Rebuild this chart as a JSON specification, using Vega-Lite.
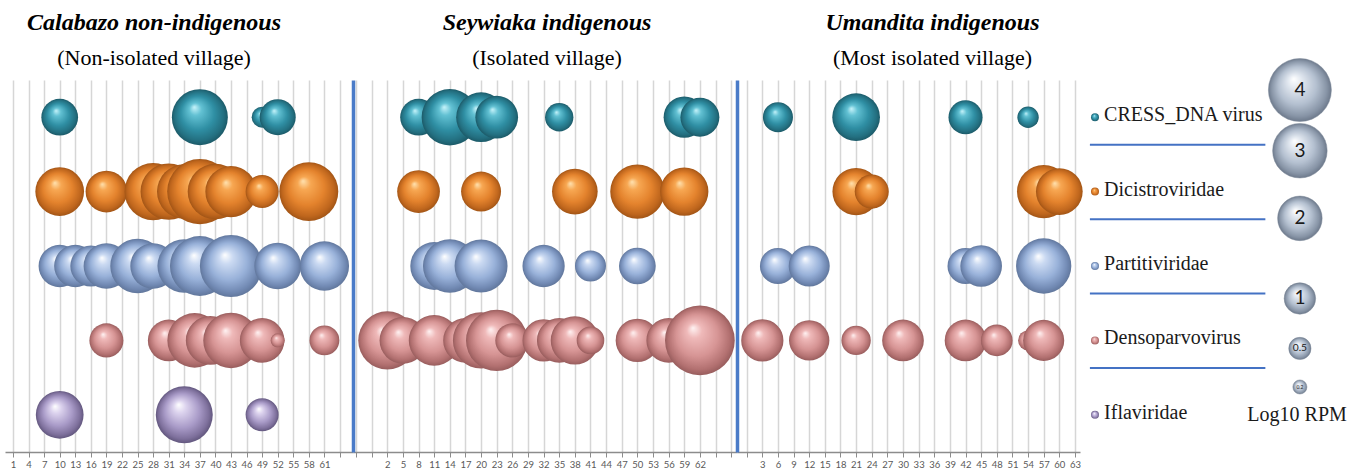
{
  "$schema": "https://vega.github.io/schema/vega-lite/v6.json",
  "autosize": {"type": "pad"},
  "padding": {"left": 5, "right": 0, "top": 11, "bottom": 0},
  "background": "white",
  "spacing": 0,
  "bounds": "flush",
  "datasets": {
    "bubbles": [
      {"village": "Calabazo", "family": "CRESS_DNA virus", "sample": 10, "rpm": 1.36},
      {"village": "Calabazo", "family": "CRESS_DNA virus", "sample": 37, "rpm": 3.16},
      {"village": "Calabazo", "family": "CRESS_DNA virus", "sample": 49, "rpm": 0.44},
      {"village": "Calabazo", "family": "CRESS_DNA virus", "sample": 52, "rpm": 1.31},
      {"village": "Calabazo", "family": "Dicistroviridae", "sample": 10, "rpm": 2.39},
      {"village": "Calabazo", "family": "Dicistroviridae", "sample": 19, "rpm": 1.75},
      {"village": "Calabazo", "family": "Dicistroviridae", "sample": 28, "rpm": 3.3},
      {"village": "Calabazo", "family": "Dicistroviridae", "sample": 31, "rpm": 3.2},
      {"village": "Calabazo", "family": "Dicistroviridae", "sample": 34, "rpm": 3.0},
      {"village": "Calabazo", "family": "Dicistroviridae", "sample": 37, "rpm": 4.3},
      {"village": "Calabazo", "family": "Dicistroviridae", "sample": 40, "rpm": 3.1},
      {"village": "Calabazo", "family": "Dicistroviridae", "sample": 43, "rpm": 2.65},
      {"village": "Calabazo", "family": "Dicistroviridae", "sample": 49, "rpm": 1.1},
      {"village": "Calabazo", "family": "Dicistroviridae", "sample": 58, "rpm": 3.5},
      {"village": "Calabazo", "family": "Partitiviridae", "sample": 10, "rpm": 1.8},
      {"village": "Calabazo", "family": "Partitiviridae", "sample": 13, "rpm": 1.8},
      {"village": "Calabazo", "family": "Partitiviridae", "sample": 16, "rpm": 1.7},
      {"village": "Calabazo", "family": "Partitiviridae", "sample": 19, "rpm": 2.1},
      {"village": "Calabazo", "family": "Partitiviridae", "sample": 25, "rpm": 3.0},
      {"village": "Calabazo", "family": "Partitiviridae", "sample": 28, "rpm": 2.1},
      {"village": "Calabazo", "family": "Partitiviridae", "sample": 34, "rpm": 2.9},
      {"village": "Calabazo", "family": "Partitiviridae", "sample": 37, "rpm": 3.6},
      {"village": "Calabazo", "family": "Partitiviridae", "sample": 43, "rpm": 3.9},
      {"village": "Calabazo", "family": "Partitiviridae", "sample": 52, "rpm": 2.2},
      {"village": "Calabazo", "family": "Partitiviridae", "sample": 61, "rpm": 2.45},
      {"village": "Calabazo", "family": "Densoparvovirus", "sample": 19, "rpm": 1.17},
      {"village": "Calabazo", "family": "Densoparvovirus", "sample": 31, "rpm": 1.75},
      {"village": "Calabazo", "family": "Densoparvovirus", "sample": 36, "rpm": 3.0},
      {"village": "Calabazo", "family": "Densoparvovirus", "sample": 39, "rpm": 2.4},
      {"village": "Calabazo", "family": "Densoparvovirus", "sample": 43, "rpm": 3.1},
      {"village": "Calabazo", "family": "Densoparvovirus", "sample": 49, "rpm": 2.0},
      {"village": "Calabazo", "family": "Densoparvovirus", "sample": 52, "rpm": 0.2},
      {"village": "Calabazo", "family": "Densoparvovirus", "sample": 61, "rpm": 0.9},
      {"village": "Calabazo", "family": "Iflaviridae", "sample": 10, "rpm": 2.3},
      {"village": "Calabazo", "family": "Iflaviridae", "sample": 34, "rpm": 3.27},
      {"village": "Calabazo", "family": "Iflaviridae", "sample": 49, "rpm": 1.1},
      {"village": "Seywiaka", "family": "CRESS_DNA virus", "sample": 8, "rpm": 1.36},
      {"village": "Seywiaka", "family": "CRESS_DNA virus", "sample": 14, "rpm": 3.2},
      {"village": "Seywiaka", "family": "CRESS_DNA virus", "sample": 20, "rpm": 2.5},
      {"village": "Seywiaka", "family": "CRESS_DNA virus", "sample": 23, "rpm": 1.84},
      {"village": "Seywiaka", "family": "CRESS_DNA virus", "sample": 35, "rpm": 0.81},
      {"village": "Seywiaka", "family": "CRESS_DNA virus", "sample": 59, "rpm": 1.72},
      {"village": "Seywiaka", "family": "CRESS_DNA virus", "sample": 62, "rpm": 1.53},
      {"village": "Seywiaka", "family": "Dicistroviridae", "sample": 8, "rpm": 1.84},
      {"village": "Seywiaka", "family": "Dicistroviridae", "sample": 20, "rpm": 1.61},
      {"village": "Seywiaka", "family": "Dicistroviridae", "sample": 38, "rpm": 2.1},
      {"village": "Seywiaka", "family": "Dicistroviridae", "sample": 50, "rpm": 2.97},
      {"village": "Seywiaka", "family": "Dicistroviridae", "sample": 59, "rpm": 2.35},
      {"village": "Seywiaka", "family": "Partitiviridae", "sample": 11, "rpm": 2.3},
      {"village": "Seywiaka", "family": "Partitiviridae", "sample": 14, "rpm": 2.9},
      {"village": "Seywiaka", "family": "Partitiviridae", "sample": 20, "rpm": 2.83},
      {"village": "Seywiaka", "family": "Partitiviridae", "sample": 32, "rpm": 1.8},
      {"village": "Seywiaka", "family": "Partitiviridae", "sample": 41, "rpm": 0.97},
      {"village": "Seywiaka", "family": "Partitiviridae", "sample": 50, "rpm": 1.36},
      {"village": "Seywiaka", "family": "Densoparvovirus", "sample": 2, "rpm": 3.4},
      {"village": "Seywiaka", "family": "Densoparvovirus", "sample": 5, "rpm": 2.2},
      {"village": "Seywiaka", "family": "Densoparvovirus", "sample": 11, "rpm": 2.6},
      {"village": "Seywiaka", "family": "Densoparvovirus", "sample": 17, "rpm": 2.0},
      {"village": "Seywiaka", "family": "Densoparvovirus", "sample": 20, "rpm": 3.2},
      {"village": "Seywiaka", "family": "Densoparvovirus", "sample": 23, "rpm": 3.8},
      {"village": "Seywiaka", "family": "Densoparvovirus", "sample": 26, "rpm": 1.17},
      {"village": "Seywiaka", "family": "Densoparvovirus", "sample": 32, "rpm": 1.8},
      {"village": "Seywiaka", "family": "Densoparvovirus", "sample": 35, "rpm": 2.0},
      {"village": "Seywiaka", "family": "Densoparvovirus", "sample": 38, "rpm": 2.35},
      {"village": "Seywiaka", "family": "Densoparvovirus", "sample": 41, "rpm": 0.77},
      {"village": "Seywiaka", "family": "Densoparvovirus", "sample": 50, "rpm": 1.9},
      {"village": "Seywiaka", "family": "Densoparvovirus", "sample": 56, "rpm": 2.0},
      {"village": "Seywiaka", "family": "Densoparvovirus", "sample": 62, "rpm": 4.9},
      {"village": "Umandita", "family": "CRESS_DNA virus", "sample": 6, "rpm": 0.91},
      {"village": "Umandita", "family": "CRESS_DNA virus", "sample": 21, "rpm": 2.29},
      {"village": "Umandita", "family": "CRESS_DNA virus", "sample": 42, "rpm": 1.17},
      {"village": "Umandita", "family": "CRESS_DNA virus", "sample": 54, "rpm": 0.46},
      {"village": "Umandita", "family": "Dicistroviridae", "sample": 21, "rpm": 2.26},
      {"village": "Umandita", "family": "Dicistroviridae", "sample": 24, "rpm": 1.17},
      {"village": "Umandita", "family": "Dicistroviridae", "sample": 57, "rpm": 2.87},
      {"village": "Umandita", "family": "Dicistroviridae", "sample": 60, "rpm": 2.2},
      {"village": "Umandita", "family": "Partitiviridae", "sample": 6, "rpm": 1.31},
      {"village": "Umandita", "family": "Partitiviridae", "sample": 12, "rpm": 1.7},
      {"village": "Umandita", "family": "Partitiviridae", "sample": 42, "rpm": 1.31},
      {"village": "Umandita", "family": "Partitiviridae", "sample": 45, "rpm": 1.75},
      {"village": "Umandita", "family": "Partitiviridae", "sample": 57, "rpm": 3.08},
      {"village": "Umandita", "family": "Densoparvovirus", "sample": 3, "rpm": 1.8},
      {"village": "Umandita", "family": "Densoparvovirus", "sample": 12, "rpm": 1.64},
      {"village": "Umandita", "family": "Densoparvovirus", "sample": 21, "rpm": 0.87},
      {"village": "Umandita", "family": "Densoparvovirus", "sample": 30, "rpm": 1.75},
      {"village": "Umandita", "family": "Densoparvovirus", "sample": 42, "rpm": 1.75},
      {"village": "Umandita", "family": "Densoparvovirus", "sample": 48, "rpm": 1.01},
      {"village": "Umandita", "family": "Densoparvovirus", "sample": 54, "rpm": 0.4},
      {"village": "Umandita", "family": "Densoparvovirus", "sample": 57, "rpm": 1.7}
    ],
    "families": [
      {"family": "CRESS_DNA virus"},
      {"family": "Dicistroviridae"},
      {"family": "Partitiviridae"},
      {"family": "Densoparvovirus"},
      {"family": "Iflaviridae"}
    ],
    "sizes": [
      {"rpm": 4}, {"rpm": 3}, {"rpm": 2}, {"rpm": 1}, {"rpm": 0.5}, {"rpm": 0.2}
    ],
    "legendTitle": [{"label": "Log10 RPM"}]
  },
  "hconcat": [
    {
      "width": 348, "height": 372,
      "data": {"name": "bubbles"},
      "transform": [{"filter": "datum.village === 'Calabazo'"}],
      "title": {"text": "Calabazo non-indigenous", "subtitle": "(Non-isolated village)", "dx": -25},
      "mark": {"type": "circle", "opacity": 1},
      "encoding": {
        "x": {"field": "sample", "type": "quantitative",
              "scale": {"domain": [-0.54, 66.51], "nice": false, "zero": false},
              "axis": {"values": [1,4,7,10,13,16,19,22,25,28,31,34,37,40,43,46,49,52,55,58,61,64],
                       "labelExpr": "datum.value <= 61 ? datum.label : ''", "format": "d"}},
        "y": {"field": "family", "type": "nominal",
              "scale": {"type": "band", "domain": ["CRESS_DNA virus","Dicistroviridae","Partitiviridae","Densoparvovirus","Iflaviridae"], "paddingInner": 0, "paddingOuter": 0},
              "axis": null},
        "size": {"field": "rpm", "type": "quantitative", "scale": {"domain": [0, 4], "range": [0, 3969], "zero": true}, "legend": null},
        "fill": {"condition": [
          {"test": "datum.family === 'CRESS_DNA virus'", "value": {"gradient": "radial", "x1": 0.4, "y1": 0.32, "r1": 0, "x2": 0.5, "y2": 0.5, "r2": 0.5, "stops": [{"offset": 0, "color": "#c8f4fb"}, {"offset": 0.22, "color": "#62c1d3"}, {"offset": 0.6, "color": "#2f8fa4"}, {"offset": 0.88, "color": "#236f80"}, {"offset": 1, "color": "#1c5a68"}]}},
          {"test": "datum.family === 'Dicistroviridae'", "value": {"gradient": "radial", "x1": 0.4, "y1": 0.32, "r1": 0, "x2": 0.5, "y2": 0.5, "r2": 0.5, "stops": [{"offset": 0, "color": "#ffe2b0"}, {"offset": 0.22, "color": "#f7a752"}, {"offset": 0.6, "color": "#e4832d"}, {"offset": 0.88, "color": "#bf661d"}, {"offset": 1, "color": "#a25516"}]}},
          {"test": "datum.family === 'Partitiviridae'", "value": {"gradient": "radial", "x1": 0.4, "y1": 0.32, "r1": 0, "x2": 0.5, "y2": 0.5, "r2": 0.5, "stops": [{"offset": 0, "color": "#ffffff"}, {"offset": 0.22, "color": "#cbdaf2"}, {"offset": 0.6, "color": "#98b1d9"}, {"offset": 0.88, "color": "#7189b3"}, {"offset": 1, "color": "#61779c"}]}},
          {"test": "datum.family === 'Densoparvovirus'", "value": {"gradient": "radial", "x1": 0.4, "y1": 0.32, "r1": 0, "x2": 0.5, "y2": 0.5, "r2": 0.5, "stops": [{"offset": 0, "color": "#fff3f3"}, {"offset": 0.22, "color": "#efb9b9"}, {"offset": 0.6, "color": "#d69494"}, {"offset": 0.88, "color": "#b27070"}, {"offset": 1, "color": "#985d5d"}]}}
        ], "value": {"gradient": "radial", "x1": 0.4, "y1": 0.32, "r1": 0, "x2": 0.5, "y2": 0.5, "r2": 0.5, "stops": [{"offset": 0, "color": "#ffffff"}, {"offset": 0.22, "color": "#dcd3ee"}, {"offset": 0.6, "color": "#a99bc8"}, {"offset": 0.88, "color": "#7e709c"}, {"offset": 1, "color": "#62577e"}]}}
      }
    },
    {
      "width": 384, "height": 372,
      "data": {"name": "bubbles"},
      "transform": [{"filter": "datum.village === 'Seywiaka'"}],
      "title": {"text": "Seywiaka indigenous", "subtitle": "(Isolated village)", "dx": 2},
      "mark": {"type": "circle", "opacity": 1},
      "encoding": {
        "x": {"field": "sample", "type": "quantitative",
              "scale": {"domain": [-4.58, 69.12], "nice": false, "zero": false},
              "axis": {"values": [-4,-1,2,5,8,11,14,17,20,23,26,29,32,35,38,41,44,47,50,53,56,59,62,65,68],
                       "labelExpr": "datum.value >= 2 && datum.value <= 62 ? datum.label : ''", "format": "d"}},
        "y": {"field": "family", "type": "nominal",
              "scale": {"type": "band", "domain": ["CRESS_DNA virus","Dicistroviridae","Partitiviridae","Densoparvovirus","Iflaviridae"], "paddingInner": 0, "paddingOuter": 0},
              "axis": {"labels": false, "ticks": false, "grid": false, "title": null, "domainColor": "#4a7bc8", "domainWidth": 3.5}},
        "size": {"field": "rpm", "type": "quantitative", "scale": {"domain": [0, 4], "range": [0, 3969], "zero": true}, "legend": null},
        "fill": {"condition": [
          {"test": "datum.family === 'CRESS_DNA virus'", "value": {"gradient": "radial", "x1": 0.4, "y1": 0.32, "r1": 0, "x2": 0.5, "y2": 0.5, "r2": 0.5, "stops": [{"offset": 0, "color": "#c8f4fb"}, {"offset": 0.22, "color": "#62c1d3"}, {"offset": 0.6, "color": "#2f8fa4"}, {"offset": 0.88, "color": "#236f80"}, {"offset": 1, "color": "#1c5a68"}]}},
          {"test": "datum.family === 'Dicistroviridae'", "value": {"gradient": "radial", "x1": 0.4, "y1": 0.32, "r1": 0, "x2": 0.5, "y2": 0.5, "r2": 0.5, "stops": [{"offset": 0, "color": "#ffe2b0"}, {"offset": 0.22, "color": "#f7a752"}, {"offset": 0.6, "color": "#e4832d"}, {"offset": 0.88, "color": "#bf661d"}, {"offset": 1, "color": "#a25516"}]}},
          {"test": "datum.family === 'Partitiviridae'", "value": {"gradient": "radial", "x1": 0.4, "y1": 0.32, "r1": 0, "x2": 0.5, "y2": 0.5, "r2": 0.5, "stops": [{"offset": 0, "color": "#ffffff"}, {"offset": 0.22, "color": "#cbdaf2"}, {"offset": 0.6, "color": "#98b1d9"}, {"offset": 0.88, "color": "#7189b3"}, {"offset": 1, "color": "#61779c"}]}},
          {"test": "datum.family === 'Densoparvovirus'", "value": {"gradient": "radial", "x1": 0.4, "y1": 0.32, "r1": 0, "x2": 0.5, "y2": 0.5, "r2": 0.5, "stops": [{"offset": 0, "color": "#fff3f3"}, {"offset": 0.22, "color": "#efb9b9"}, {"offset": 0.6, "color": "#d69494"}, {"offset": 0.88, "color": "#b27070"}, {"offset": 1, "color": "#985d5d"}]}}
        ], "value": {"gradient": "radial", "x1": 0.4, "y1": 0.32, "r1": 0, "x2": 0.5, "y2": 0.5, "r2": 0.5, "stops": [{"offset": 0, "color": "#ffffff"}, {"offset": 0.22, "color": "#dcd3ee"}, {"offset": 0.6, "color": "#a99bc8"}, {"offset": 0.88, "color": "#7e709c"}, {"offset": 1, "color": "#62577e"}]}}
      }
    },
    {
      "width": 343, "height": 372,
      "data": {"name": "bubbles"},
      "transform": [{"filter": "datum.village === 'Umandita'"}],
      "title": {"text": "Umandita indigenous", "subtitle": "(Most isolated village)", "dx": 24},
      "mark": {"type": "circle", "opacity": 1},
      "encoding": {
        "x": {"field": "sample", "type": "quantitative",
              "scale": {"domain": [-1.86, 63.97], "nice": false, "zero": false},
              "axis": {"values": [0,3,6,9,12,15,18,21,24,27,30,33,36,39,42,45,48,51,54,57,60,63],
                       "labelExpr": "datum.value >= 3 ? datum.label : ''", "format": "d"}},
        "y": {"field": "family", "type": "nominal",
              "scale": {"type": "band", "domain": ["CRESS_DNA virus","Dicistroviridae","Partitiviridae","Densoparvovirus","Iflaviridae"], "paddingInner": 0, "paddingOuter": 0},
              "axis": {"labels": false, "ticks": false, "grid": false, "title": null, "domainColor": "#4a7bc8", "domainWidth": 3.5}},
        "size": {"field": "rpm", "type": "quantitative", "scale": {"domain": [0, 4], "range": [0, 3969], "zero": true}, "legend": null},
        "fill": {"condition": [
          {"test": "datum.family === 'CRESS_DNA virus'", "value": {"gradient": "radial", "x1": 0.4, "y1": 0.32, "r1": 0, "x2": 0.5, "y2": 0.5, "r2": 0.5, "stops": [{"offset": 0, "color": "#c8f4fb"}, {"offset": 0.22, "color": "#62c1d3"}, {"offset": 0.6, "color": "#2f8fa4"}, {"offset": 0.88, "color": "#236f80"}, {"offset": 1, "color": "#1c5a68"}]}},
          {"test": "datum.family === 'Dicistroviridae'", "value": {"gradient": "radial", "x1": 0.4, "y1": 0.32, "r1": 0, "x2": 0.5, "y2": 0.5, "r2": 0.5, "stops": [{"offset": 0, "color": "#ffe2b0"}, {"offset": 0.22, "color": "#f7a752"}, {"offset": 0.6, "color": "#e4832d"}, {"offset": 0.88, "color": "#bf661d"}, {"offset": 1, "color": "#a25516"}]}},
          {"test": "datum.family === 'Partitiviridae'", "value": {"gradient": "radial", "x1": 0.4, "y1": 0.32, "r1": 0, "x2": 0.5, "y2": 0.5, "r2": 0.5, "stops": [{"offset": 0, "color": "#ffffff"}, {"offset": 0.22, "color": "#cbdaf2"}, {"offset": 0.6, "color": "#98b1d9"}, {"offset": 0.88, "color": "#7189b3"}, {"offset": 1, "color": "#61779c"}]}},
          {"test": "datum.family === 'Densoparvovirus'", "value": {"gradient": "radial", "x1": 0.4, "y1": 0.32, "r1": 0, "x2": 0.5, "y2": 0.5, "r2": 0.5, "stops": [{"offset": 0, "color": "#fff3f3"}, {"offset": 0.22, "color": "#efb9b9"}, {"offset": 0.6, "color": "#d69494"}, {"offset": 0.88, "color": "#b27070"}, {"offset": 1, "color": "#985d5d"}]}}
        ], "value": {"gradient": "radial", "x1": 0.4, "y1": 0.32, "r1": 0, "x2": 0.5, "y2": 0.5, "r2": 0.5, "stops": [{"offset": 0, "color": "#ffffff"}, {"offset": 0.22, "color": "#dcd3ee"}, {"offset": 0.6, "color": "#a99bc8"}, {"offset": 0.88, "color": "#7e709c"}, {"offset": 1, "color": "#62577e"}]}}
      }
    },
    {
      "width": 283, "height": 372,
      "layer": [
        {
          "data": {"name": "families"},
          "transform": [{"filter": "datum.family !== 'Iflaviridae'"}],
          "mark": {"type": "rule", "color": "#4472c4", "strokeWidth": 2},
          "encoding": {
            "y": {"field": "family", "type": "nominal", "bandPosition": 0.87,
                  "scale": {"type": "band", "domain": ["CRESS_DNA virus","Dicistroviridae","Partitiviridae","Densoparvovirus","Iflaviridae"], "paddingInner": 0, "paddingOuter": 0},
                  "axis": null},
            "x": {"datum": 0.035, "type": "quantitative", "scale": {"domain": [0, 1], "nice": false, "zero": false}, "axis": null},
            "x2": {"datum": 0.655}
          }
        },
        {
          "data": {"name": "families"},
          "mark": {"type": "circle", "size": 64, "opacity": 1},
          "encoding": {
            "y": {"field": "family", "type": "nominal",
                  "scale": {"type": "band", "domain": ["CRESS_DNA virus","Dicistroviridae","Partitiviridae","Densoparvovirus","Iflaviridae"], "paddingInner": 0, "paddingOuter": 0},
                  "axis": null},
            "x": {"datum": 0.053, "type": "quantitative"},
            "fill": {"condition": [
              {"test": "datum.family === 'CRESS_DNA virus'", "value": {"gradient": "radial", "x1": 0.4, "y1": 0.32, "r1": 0, "x2": 0.5, "y2": 0.5, "r2": 0.5, "stops": [{"offset": 0, "color": "#c8f4fb"}, {"offset": 0.22, "color": "#62c1d3"}, {"offset": 0.6, "color": "#2f8fa4"}, {"offset": 0.88, "color": "#236f80"}, {"offset": 1, "color": "#1c5a68"}]}},
              {"test": "datum.family === 'Dicistroviridae'", "value": {"gradient": "radial", "x1": 0.4, "y1": 0.32, "r1": 0, "x2": 0.5, "y2": 0.5, "r2": 0.5, "stops": [{"offset": 0, "color": "#ffe2b0"}, {"offset": 0.22, "color": "#f7a752"}, {"offset": 0.6, "color": "#e4832d"}, {"offset": 0.88, "color": "#bf661d"}, {"offset": 1, "color": "#a25516"}]}},
              {"test": "datum.family === 'Partitiviridae'", "value": {"gradient": "radial", "x1": 0.4, "y1": 0.32, "r1": 0, "x2": 0.5, "y2": 0.5, "r2": 0.5, "stops": [{"offset": 0, "color": "#ffffff"}, {"offset": 0.22, "color": "#cbdaf2"}, {"offset": 0.6, "color": "#98b1d9"}, {"offset": 0.88, "color": "#7189b3"}, {"offset": 1, "color": "#61779c"}]}},
              {"test": "datum.family === 'Densoparvovirus'", "value": {"gradient": "radial", "x1": 0.4, "y1": 0.32, "r1": 0, "x2": 0.5, "y2": 0.5, "r2": 0.5, "stops": [{"offset": 0, "color": "#fff3f3"}, {"offset": 0.22, "color": "#efb9b9"}, {"offset": 0.6, "color": "#d69494"}, {"offset": 0.88, "color": "#b27070"}, {"offset": 1, "color": "#985d5d"}]}}
            ], "value": {"gradient": "radial", "x1": 0.4, "y1": 0.32, "r1": 0, "x2": 0.5, "y2": 0.5, "r2": 0.5, "stops": [{"offset": 0, "color": "#ffffff"}, {"offset": 0.22, "color": "#dcd3ee"}, {"offset": 0.6, "color": "#a99bc8"}, {"offset": 0.88, "color": "#7e709c"}, {"offset": 1, "color": "#62577e"}]}}
          }
        },
        {
          "data": {"name": "families"},
          "mark": {"type": "text", "align": "left", "baseline": "middle", "dy": -2, "font": "Liberation Serif", "fontSize": 20, "color": "#1a1a1a"},
          "encoding": {
            "y": {"field": "family", "type": "nominal",
                  "scale": {"type": "band", "domain": ["CRESS_DNA virus","Dicistroviridae","Partitiviridae","Densoparvovirus","Iflaviridae"], "paddingInner": 0, "paddingOuter": 0},
                  "axis": null},
            "x": {"datum": 0.085, "type": "quantitative"},
            "text": {"field": "family", "type": "nominal"}
          }
        },
        {
          "data": {"name": "sizes"},
          "mark": {"type": "circle", "opacity": 1, "stroke": "#7d8898", "strokeWidth": 0.5},
          "encoding": {
            "y": {"field": "rpm", "type": "quantitative", "scale": {"type": "pow", "exponent": 0.68, "domain": [-0.0639, 4.174], "nice": false, "zero": false}, "axis": null},
            "x": {"datum": 0.777, "type": "quantitative"},
            "size": {"field": "rpm", "type": "quantitative", "scale": {"domain": [0, 4], "range": [0, 3969], "zero": true}, "legend": null},
            "fill": {"value": {"gradient": "radial", "x1": 0.4, "y1": 0.32, "r1": 0, "x2": 0.5, "y2": 0.5, "r2": 0.5, "stops": [{"offset": 0, "color": "#ffffff"}, {"offset": 0.22, "color": "#e2e8f0"}, {"offset": 0.6, "color": "#b4c0d0"}, {"offset": 0.88, "color": "#8794a6"}, {"offset": 1, "color": "#6d798b"}]}}
          }
        },
        {
          "data": {"name": "sizes"},
          "mark": {"type": "text", "font": "Lato", "color": "#1a1a1a", "baseline": "middle", "align": "center"},
          "encoding": {
            "y": {"field": "rpm", "type": "quantitative", "scale": {"type": "pow", "exponent": 0.68, "domain": [-0.0639, 4.174], "nice": false, "zero": false}, "axis": null},
            "x": {"datum": 0.777, "type": "quantitative"},
            "text": {"field": "rpm", "type": "quantitative", "format": "~g"},
            "size": {"field": "rpm", "type": "quantitative", "scale": {"domain": [0.2, 1], "range": [5, 19], "clamp": true, "zero": false}, "legend": null}
          }
        },
        {
          "data": {"name": "legendTitle"},
          "mark": {"type": "text", "font": "Liberation Serif", "fontSize": 20, "color": "#1a1a1a", "baseline": "middle", "align": "center"},
          "encoding": {
            "y": {"datum": 0.0466, "type": "quantitative", "scale": {"type": "pow", "exponent": 0.68, "domain": [-0.0639, 4.174], "nice": false, "zero": false}, "axis": null},
            "x": {"datum": 0.767, "type": "quantitative"},
            "text": {"field": "label", "type": "nominal"}
          }
        }
      ],
      "resolve": {"scale": {"y": "independent", "size": "independent"}}
    }
  ],
  "resolve": {"scale": {"size": "independent"}},
  "config": {
    "view": {"stroke": null},
    "axisX": {
      "domainColor": "#8c8c8c", "domainWidth": 1.5,
      "tickColor": "#8c8c8c", "tickSize": 5, "tickWidth": 1,
      "grid": true, "gridColor": "#d6d6d6", "gridWidth": 1.5,
      "labelFont": "Lato", "labelFontSize": 9.5, "labelColor": "#595959", "labelPadding": 2,
      "labelOverlap": false, "labelFlush": false, "labelBound": false,
      "title": null
    },
    "title": {
      "font": "Liberation Serif", "fontSize": 24, "fontWeight": "bold", "fontStyle": "italic", "color": "#000000",
      "subtitleFont": "Liberation Serif", "subtitleFontSize": 22, "subtitleColor": "#000000",
      "subtitlePadding": 13, "offset": 11, "anchor": "middle"
    }
  }
}
